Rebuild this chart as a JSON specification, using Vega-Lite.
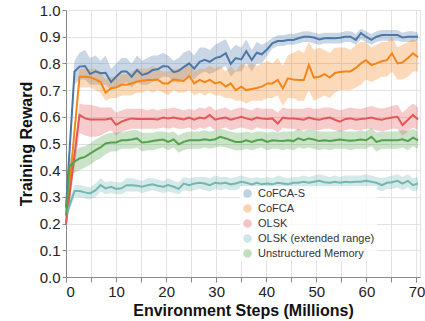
{
  "$schema": "https://vega.github.io/schema/vega-lite/v6.json",
  "width": 354,
  "height": 267,
  "autosize": {"type": "none"},
  "padding": {"left": 66, "top": 10, "right": 5, "bottom": 44},
  "background": "white",
  "config": {
    "font": "Liberation Sans",
    "view": {"stroke": "#e3e3e3"},
    "axis": {
      "labelFont": "Liberation Sans", "labelFontSize": 15, "labelColor": "#222", "labelOverlap": false,
      "titleFont": "Liberation Sans", "titleFontSize": 16, "titleFontWeight": "bold", "titleColor": "#111",
      "gridColor": "#e3e3e3", "domainColor": "#888", "tickColor": "#888"
    }
  },
  "data": {"values": [
{"s":"a","x":0,"m":0.26,"l":0.24,"h":0.28},
{"s":"a","x":1.7,"m":0.77,"l":0.72,"h":0.81},
{"s":"a","x":2.7,"m":0.788,"l":0.74,"h":0.84},
{"s":"a","x":3.8,"m":0.79,"l":0.74,"h":0.85},
{"s":"a","x":4.8,"m":0.76,"l":0.72,"h":0.82},
{"s":"a","x":5.9,"m":0.77,"l":0.72,"h":0.83},
{"s":"a","x":6.9,"m":0.763,"l":0.72,"h":0.81},
{"s":"a","x":7.9,"m":0.765,"l":0.72,"h":0.83},
{"s":"a","x":9.0,"m":0.73,"l":0.70,"h":0.78},
{"s":"a","x":10.0,"m":0.75,"l":0.71,"h":0.80},
{"s":"a","x":11.1,"m":0.77,"l":0.72,"h":0.82},
{"s":"a","x":12.1,"m":0.77,"l":0.73,"h":0.82},
{"s":"a","x":13.1,"m":0.75,"l":0.71,"h":0.80},
{"s":"a","x":14.2,"m":0.775,"l":0.73,"h":0.83},
{"s":"a","x":15.2,"m":0.757,"l":0.72,"h":0.81},
{"s":"a","x":16.3,"m":0.763,"l":0.72,"h":0.82},
{"s":"a","x":17.3,"m":0.775,"l":0.73,"h":0.83},
{"s":"a","x":18.3,"m":0.778,"l":0.74,"h":0.83},
{"s":"a","x":19.4,"m":0.79,"l":0.75,"h":0.84},
{"s":"a","x":20.4,"m":0.788,"l":0.75,"h":0.83},
{"s":"a","x":21.5,"m":0.767,"l":0.73,"h":0.81},
{"s":"a","x":22.5,"m":0.772,"l":0.73,"h":0.82},
{"s":"a","x":23.5,"m":0.786,"l":0.74,"h":0.84},
{"s":"a","x":24.6,"m":0.80,"l":0.75,"h":0.85},
{"s":"a","x":25.6,"m":0.78,"l":0.74,"h":0.83},
{"s":"a","x":26.7,"m":0.806,"l":0.76,"h":0.86},
{"s":"a","x":27.7,"m":0.813,"l":0.77,"h":0.86},
{"s":"a","x":28.7,"m":0.806,"l":0.76,"h":0.85},
{"s":"a","x":29.8,"m":0.82,"l":0.77,"h":0.87},
{"s":"a","x":30.8,"m":0.825,"l":0.78,"h":0.88},
{"s":"a","x":31.9,"m":0.838,"l":0.79,"h":0.89},
{"s":"a","x":32.9,"m":0.798,"l":0.75,"h":0.85},
{"s":"a","x":33.9,"m":0.82,"l":0.77,"h":0.87},
{"s":"a","x":35.0,"m":0.815,"l":0.77,"h":0.86},
{"s":"a","x":36.0,"m":0.846,"l":0.80,"h":0.89},
{"s":"a","x":37.1,"m":0.813,"l":0.77,"h":0.85},
{"s":"a","x":38.1,"m":0.84,"l":0.80,"h":0.88},
{"s":"a","x":39.1,"m":0.834,"l":0.80,"h":0.87},
{"s":"a","x":40.2,"m":0.853,"l":0.83,"h":0.88},
{"s":"a","x":41.2,"m":0.875,"l":0.855,"h":0.895},
{"s":"a","x":42.3,"m":0.884,"l":0.865,"h":0.905},
{"s":"a","x":43.3,"m":0.884,"l":0.865,"h":0.905},
{"s":"a","x":44.3,"m":0.888,"l":0.87,"h":0.91},
{"s":"a","x":45.4,"m":0.888,"l":0.87,"h":0.91},
{"s":"a","x":46.4,"m":0.894,"l":0.875,"h":0.915},
{"s":"a","x":47.5,"m":0.90,"l":0.88,"h":0.92},
{"s":"a","x":48.5,"m":0.90,"l":0.88,"h":0.92},
{"s":"a","x":49.5,"m":0.897,"l":0.875,"h":0.915},
{"s":"a","x":50.6,"m":0.89,"l":0.87,"h":0.91},
{"s":"a","x":51.6,"m":0.894,"l":0.875,"h":0.915},
{"s":"a","x":52.7,"m":0.895,"l":0.875,"h":0.915},
{"s":"a","x":53.7,"m":0.894,"l":0.875,"h":0.915},
{"s":"a","x":54.7,"m":0.896,"l":0.875,"h":0.915},
{"s":"a","x":55.8,"m":0.90,"l":0.88,"h":0.92},
{"s":"a","x":56.8,"m":0.90,"l":0.88,"h":0.92},
{"s":"a","x":57.9,"m":0.888,"l":0.87,"h":0.91},
{"s":"a","x":58.9,"m":0.913,"l":0.89,"h":0.93},
{"s":"a","x":59.9,"m":0.90,"l":0.88,"h":0.92},
{"s":"a","x":61.0,"m":0.888,"l":0.87,"h":0.91},
{"s":"a","x":62.0,"m":0.90,"l":0.88,"h":0.92},
{"s":"a","x":63.1,"m":0.906,"l":0.885,"h":0.925},
{"s":"a","x":64.1,"m":0.906,"l":0.885,"h":0.925},
{"s":"a","x":65.1,"m":0.906,"l":0.885,"h":0.925},
{"s":"a","x":66.2,"m":0.906,"l":0.885,"h":0.925},
{"s":"a","x":67.2,"m":0.897,"l":0.88,"h":0.915},
{"s":"a","x":68.3,"m":0.90,"l":0.88,"h":0.92},
{"s":"a","x":69.3,"m":0.90,"l":0.88,"h":0.92},
{"s":"a","x":70.3,"m":0.90,"l":0.885,"h":0.915},
{"s":"b","x":0,"m":0.20,"l":0.19,"h":0.21},
{"s":"b","x":2.7,"m":0.75,"l":0.71,"h":0.78},
{"s":"b","x":3.8,"m":0.75,"l":0.71,"h":0.78},
{"s":"b","x":4.8,"m":0.748,"l":0.71,"h":0.78},
{"s":"b","x":5.9,"m":0.74,"l":0.70,"h":0.78},
{"s":"b","x":6.9,"m":0.73,"l":0.69,"h":0.77},
{"s":"b","x":7.9,"m":0.69,"l":0.66,"h":0.74},
{"s":"b","x":9.0,"m":0.707,"l":0.67,"h":0.75},
{"s":"b","x":10.0,"m":0.71,"l":0.67,"h":0.75},
{"s":"b","x":11.1,"m":0.72,"l":0.68,"h":0.76},
{"s":"b","x":12.1,"m":0.72,"l":0.68,"h":0.76},
{"s":"b","x":13.1,"m":0.725,"l":0.68,"h":0.77},
{"s":"b","x":14.2,"m":0.732,"l":0.69,"h":0.78},
{"s":"b","x":15.2,"m":0.735,"l":0.69,"h":0.78},
{"s":"b","x":16.3,"m":0.738,"l":0.70,"h":0.78},
{"s":"b","x":17.3,"m":0.738,"l":0.69,"h":0.79},
{"s":"b","x":18.3,"m":0.74,"l":0.70,"h":0.78},
{"s":"b","x":19.4,"m":0.725,"l":0.69,"h":0.77},
{"s":"b","x":20.4,"m":0.725,"l":0.68,"h":0.77},
{"s":"b","x":21.5,"m":0.74,"l":0.70,"h":0.78},
{"s":"b","x":22.5,"m":0.737,"l":0.69,"h":0.78},
{"s":"b","x":23.5,"m":0.734,"l":0.69,"h":0.78},
{"s":"b","x":24.6,"m":0.753,"l":0.70,"h":0.80},
{"s":"b","x":25.6,"m":0.725,"l":0.68,"h":0.77},
{"s":"b","x":26.7,"m":0.738,"l":0.69,"h":0.78},
{"s":"b","x":27.7,"m":0.73,"l":0.68,"h":0.78},
{"s":"b","x":28.7,"m":0.738,"l":0.69,"h":0.79},
{"s":"b","x":29.8,"m":0.725,"l":0.68,"h":0.78},
{"s":"b","x":30.8,"m":0.73,"l":0.68,"h":0.79},
{"s":"b","x":31.9,"m":0.713,"l":0.67,"h":0.77},
{"s":"b","x":32.9,"m":0.725,"l":0.67,"h":0.79},
{"s":"b","x":33.9,"m":0.70,"l":0.66,"h":0.77},
{"s":"b","x":35.0,"m":0.713,"l":0.66,"h":0.80},
{"s":"b","x":36.0,"m":0.70,"l":0.65,"h":0.79},
{"s":"b","x":37.1,"m":0.704,"l":0.66,"h":0.80},
{"s":"b","x":38.1,"m":0.708,"l":0.66,"h":0.79},
{"s":"b","x":39.1,"m":0.713,"l":0.66,"h":0.80},
{"s":"b","x":40.2,"m":0.725,"l":0.67,"h":0.81},
{"s":"b","x":41.2,"m":0.725,"l":0.67,"h":0.80},
{"s":"b","x":42.3,"m":0.738,"l":0.68,"h":0.82},
{"s":"b","x":43.3,"m":0.706,"l":0.64,"h":0.79},
{"s":"b","x":44.3,"m":0.744,"l":0.67,"h":0.83},
{"s":"b","x":45.4,"m":0.74,"l":0.67,"h":0.84},
{"s":"b","x":46.4,"m":0.738,"l":0.66,"h":0.85},
{"s":"b","x":47.5,"m":0.738,"l":0.66,"h":0.84},
{"s":"b","x":48.5,"m":0.794,"l":0.70,"h":0.88},
{"s":"b","x":49.5,"m":0.747,"l":0.66,"h":0.85},
{"s":"b","x":50.6,"m":0.75,"l":0.67,"h":0.86},
{"s":"b","x":51.6,"m":0.76,"l":0.68,"h":0.85},
{"s":"b","x":52.7,"m":0.747,"l":0.67,"h":0.84},
{"s":"b","x":53.7,"m":0.764,"l":0.69,"h":0.86},
{"s":"b","x":54.7,"m":0.768,"l":0.70,"h":0.86},
{"s":"b","x":55.8,"m":0.77,"l":0.70,"h":0.86},
{"s":"b","x":56.8,"m":0.77,"l":0.70,"h":0.85},
{"s":"b","x":57.9,"m":0.783,"l":0.71,"h":0.87},
{"s":"b","x":58.9,"m":0.80,"l":0.72,"h":0.88},
{"s":"b","x":59.9,"m":0.812,"l":0.74,"h":0.88},
{"s":"b","x":61.0,"m":0.794,"l":0.73,"h":0.86},
{"s":"b","x":62.0,"m":0.80,"l":0.74,"h":0.87},
{"s":"b","x":63.1,"m":0.808,"l":0.75,"h":0.88},
{"s":"b","x":64.1,"m":0.812,"l":0.75,"h":0.88},
{"s":"b","x":65.1,"m":0.838,"l":0.77,"h":0.90},
{"s":"b","x":66.2,"m":0.80,"l":0.74,"h":0.86},
{"s":"b","x":67.2,"m":0.803,"l":0.74,"h":0.87},
{"s":"b","x":68.3,"m":0.82,"l":0.75,"h":0.88},
{"s":"b","x":69.3,"m":0.838,"l":0.77,"h":0.89},
{"s":"b","x":70.3,"m":0.823,"l":0.77,"h":0.88},
{"s":"c","x":0,"m":0.20,"l":0.19,"h":0.21},
{"s":"c","x":2.7,"m":0.607,"l":0.54,"h":0.65},
{"s":"c","x":3.8,"m":0.594,"l":0.53,"h":0.645},
{"s":"c","x":4.8,"m":0.59,"l":0.525,"h":0.645},
{"s":"c","x":5.9,"m":0.59,"l":0.525,"h":0.64},
{"s":"c","x":6.9,"m":0.59,"l":0.53,"h":0.635},
{"s":"c","x":7.9,"m":0.59,"l":0.54,"h":0.635},
{"s":"c","x":9.0,"m":0.594,"l":0.55,"h":0.635},
{"s":"c","x":10.0,"m":0.57,"l":0.53,"h":0.615},
{"s":"c","x":11.1,"m":0.582,"l":0.545,"h":0.625},
{"s":"c","x":12.1,"m":0.589,"l":0.55,"h":0.63},
{"s":"c","x":13.1,"m":0.594,"l":0.555,"h":0.63},
{"s":"c","x":14.2,"m":0.592,"l":0.555,"h":0.63},
{"s":"c","x":15.2,"m":0.592,"l":0.555,"h":0.63},
{"s":"c","x":16.3,"m":0.592,"l":0.555,"h":0.625},
{"s":"c","x":17.3,"m":0.592,"l":0.555,"h":0.63},
{"s":"c","x":18.3,"m":0.59,"l":0.555,"h":0.625},
{"s":"c","x":19.4,"m":0.597,"l":0.56,"h":0.63},
{"s":"c","x":20.4,"m":0.594,"l":0.555,"h":0.63},
{"s":"c","x":21.5,"m":0.597,"l":0.56,"h":0.635},
{"s":"c","x":22.5,"m":0.594,"l":0.555,"h":0.63},
{"s":"c","x":23.5,"m":0.59,"l":0.555,"h":0.625},
{"s":"c","x":24.6,"m":0.597,"l":0.56,"h":0.63},
{"s":"c","x":25.6,"m":0.589,"l":0.55,"h":0.625},
{"s":"c","x":26.7,"m":0.597,"l":0.56,"h":0.635},
{"s":"c","x":27.7,"m":0.594,"l":0.555,"h":0.63},
{"s":"c","x":28.7,"m":0.607,"l":0.565,"h":0.64},
{"s":"c","x":29.8,"m":0.589,"l":0.55,"h":0.625},
{"s":"c","x":30.8,"m":0.594,"l":0.555,"h":0.63},
{"s":"c","x":31.9,"m":0.597,"l":0.56,"h":0.635},
{"s":"c","x":32.9,"m":0.589,"l":0.55,"h":0.625},
{"s":"c","x":33.9,"m":0.594,"l":0.555,"h":0.63},
{"s":"c","x":35.0,"m":0.60,"l":0.56,"h":0.635},
{"s":"c","x":36.0,"m":0.594,"l":0.555,"h":0.63},
{"s":"c","x":37.1,"m":0.589,"l":0.55,"h":0.625},
{"s":"c","x":38.1,"m":0.597,"l":0.56,"h":0.635},
{"s":"c","x":39.1,"m":0.594,"l":0.555,"h":0.63},
{"s":"c","x":40.2,"m":0.592,"l":0.555,"h":0.63},
{"s":"c","x":41.2,"m":0.594,"l":0.555,"h":0.63},
{"s":"c","x":42.3,"m":0.575,"l":0.54,"h":0.615},
{"s":"c","x":43.3,"m":0.597,"l":0.56,"h":0.635},
{"s":"c","x":44.3,"m":0.594,"l":0.555,"h":0.63},
{"s":"c","x":45.4,"m":0.594,"l":0.555,"h":0.63},
{"s":"c","x":46.4,"m":0.592,"l":0.55,"h":0.63},
{"s":"c","x":47.5,"m":0.589,"l":0.55,"h":0.63},
{"s":"c","x":48.5,"m":0.597,"l":0.555,"h":0.635},
{"s":"c","x":49.5,"m":0.592,"l":0.55,"h":0.63},
{"s":"c","x":50.6,"m":0.589,"l":0.55,"h":0.63},
{"s":"c","x":51.6,"m":0.594,"l":0.555,"h":0.635},
{"s":"c","x":52.7,"m":0.597,"l":0.555,"h":0.635},
{"s":"c","x":53.7,"m":0.589,"l":0.55,"h":0.63},
{"s":"c","x":54.7,"m":0.582,"l":0.545,"h":0.625},
{"s":"c","x":55.8,"m":0.592,"l":0.55,"h":0.63},
{"s":"c","x":56.8,"m":0.594,"l":0.555,"h":0.635},
{"s":"c","x":57.9,"m":0.589,"l":0.55,"h":0.63},
{"s":"c","x":58.9,"m":0.592,"l":0.55,"h":0.63},
{"s":"c","x":59.9,"m":0.594,"l":0.555,"h":0.635},
{"s":"c","x":61.0,"m":0.597,"l":0.555,"h":0.64},
{"s":"c","x":62.0,"m":0.592,"l":0.55,"h":0.635},
{"s":"c","x":63.1,"m":0.589,"l":0.545,"h":0.63},
{"s":"c","x":64.1,"m":0.594,"l":0.55,"h":0.635},
{"s":"c","x":65.1,"m":0.597,"l":0.555,"h":0.64},
{"s":"c","x":66.2,"m":0.60,"l":0.555,"h":0.645},
{"s":"c","x":67.2,"m":0.569,"l":0.53,"h":0.615},
{"s":"c","x":68.3,"m":0.589,"l":0.545,"h":0.635},
{"s":"c","x":69.3,"m":0.607,"l":0.56,"h":0.65},
{"s":"c","x":70.3,"m":0.59,"l":0.55,"h":0.635},
{"s":"d","x":0,"m":0.23,"l":0.21,"h":0.25},
{"s":"d","x":1.7,"m":0.322,"l":0.30,"h":0.345},
{"s":"d","x":2.7,"m":0.322,"l":0.30,"h":0.345},
{"s":"d","x":3.8,"m":0.317,"l":0.295,"h":0.34},
{"s":"d","x":4.8,"m":0.313,"l":0.29,"h":0.335},
{"s":"d","x":5.9,"m":0.325,"l":0.30,"h":0.35},
{"s":"d","x":6.9,"m":0.344,"l":0.32,"h":0.37},
{"s":"d","x":7.9,"m":0.332,"l":0.31,"h":0.355},
{"s":"d","x":9.0,"m":0.338,"l":0.315,"h":0.36},
{"s":"d","x":10.0,"m":0.33,"l":0.31,"h":0.355},
{"s":"d","x":11.1,"m":0.332,"l":0.31,"h":0.355},
{"s":"d","x":12.1,"m":0.344,"l":0.32,"h":0.37},
{"s":"d","x":13.1,"m":0.344,"l":0.32,"h":0.37},
{"s":"d","x":14.2,"m":0.342,"l":0.32,"h":0.365},
{"s":"d","x":15.2,"m":0.338,"l":0.315,"h":0.36},
{"s":"d","x":16.3,"m":0.344,"l":0.32,"h":0.37},
{"s":"d","x":17.3,"m":0.347,"l":0.325,"h":0.37},
{"s":"d","x":18.3,"m":0.342,"l":0.32,"h":0.365},
{"s":"d","x":19.4,"m":0.338,"l":0.315,"h":0.36},
{"s":"d","x":20.4,"m":0.344,"l":0.32,"h":0.37},
{"s":"d","x":21.5,"m":0.338,"l":0.315,"h":0.36},
{"s":"d","x":22.5,"m":0.33,"l":0.31,"h":0.355},
{"s":"d","x":23.5,"m":0.35,"l":0.325,"h":0.375},
{"s":"d","x":24.6,"m":0.344,"l":0.32,"h":0.37},
{"s":"d","x":25.6,"m":0.35,"l":0.325,"h":0.375},
{"s":"d","x":26.7,"m":0.353,"l":0.33,"h":0.375},
{"s":"d","x":27.7,"m":0.35,"l":0.325,"h":0.375},
{"s":"d","x":28.7,"m":0.344,"l":0.32,"h":0.37},
{"s":"d","x":29.8,"m":0.353,"l":0.33,"h":0.38},
{"s":"d","x":30.8,"m":0.35,"l":0.325,"h":0.375},
{"s":"d","x":31.9,"m":0.353,"l":0.33,"h":0.375},
{"s":"d","x":32.9,"m":0.347,"l":0.325,"h":0.37},
{"s":"d","x":33.9,"m":0.35,"l":0.325,"h":0.375},
{"s":"d","x":35.0,"m":0.357,"l":0.335,"h":0.38},
{"s":"d","x":36.0,"m":0.353,"l":0.33,"h":0.375},
{"s":"d","x":37.1,"m":0.347,"l":0.325,"h":0.37},
{"s":"d","x":38.1,"m":0.353,"l":0.33,"h":0.375},
{"s":"d","x":39.1,"m":0.347,"l":0.325,"h":0.37},
{"s":"d","x":40.2,"m":0.35,"l":0.325,"h":0.375},
{"s":"d","x":41.2,"m":0.347,"l":0.325,"h":0.37},
{"s":"d","x":42.3,"m":0.353,"l":0.33,"h":0.38},
{"s":"d","x":43.3,"m":0.35,"l":0.325,"h":0.375},
{"s":"d","x":44.3,"m":0.347,"l":0.325,"h":0.37},
{"s":"d","x":45.4,"m":0.353,"l":0.33,"h":0.375},
{"s":"d","x":46.4,"m":0.353,"l":0.33,"h":0.375},
{"s":"d","x":47.5,"m":0.357,"l":0.335,"h":0.38},
{"s":"d","x":48.5,"m":0.353,"l":0.33,"h":0.375},
{"s":"d","x":49.5,"m":0.357,"l":0.335,"h":0.38},
{"s":"d","x":50.6,"m":0.36,"l":0.335,"h":0.385},
{"s":"d","x":51.6,"m":0.355,"l":0.33,"h":0.38},
{"s":"d","x":52.7,"m":0.353,"l":0.33,"h":0.375},
{"s":"d","x":53.7,"m":0.357,"l":0.335,"h":0.38},
{"s":"d","x":54.7,"m":0.353,"l":0.33,"h":0.375},
{"s":"d","x":55.8,"m":0.357,"l":0.335,"h":0.38},
{"s":"d","x":56.8,"m":0.355,"l":0.33,"h":0.38},
{"s":"d","x":57.9,"m":0.357,"l":0.335,"h":0.38},
{"s":"d","x":58.9,"m":0.357,"l":0.335,"h":0.38},
{"s":"d","x":59.9,"m":0.36,"l":0.335,"h":0.385},
{"s":"d","x":61.0,"m":0.357,"l":0.335,"h":0.38},
{"s":"d","x":62.0,"m":0.353,"l":0.33,"h":0.375},
{"s":"d","x":63.1,"m":0.344,"l":0.32,"h":0.37},
{"s":"d","x":64.1,"m":0.353,"l":0.33,"h":0.375},
{"s":"d","x":65.1,"m":0.355,"l":0.33,"h":0.38},
{"s":"d","x":66.2,"m":0.36,"l":0.335,"h":0.385},
{"s":"d","x":67.2,"m":0.35,"l":0.325,"h":0.375},
{"s":"d","x":68.3,"m":0.36,"l":0.335,"h":0.385},
{"s":"d","x":69.3,"m":0.344,"l":0.32,"h":0.37},
{"s":"d","x":70.3,"m":0.35,"l":0.325,"h":0.375},
{"s":"e","x":0,"m":0.23,"l":0.21,"h":0.26},
{"s":"e","x":0.7,"m":0.415,"l":0.38,"h":0.44},
{"s":"e","x":1.7,"m":0.432,"l":0.39,"h":0.47},
{"s":"e","x":2.7,"m":0.444,"l":0.40,"h":0.485},
{"s":"e","x":3.8,"m":0.45,"l":0.41,"h":0.49},
{"s":"e","x":4.8,"m":0.462,"l":0.42,"h":0.50},
{"s":"e","x":5.9,"m":0.475,"l":0.435,"h":0.515},
{"s":"e","x":6.9,"m":0.485,"l":0.445,"h":0.525},
{"s":"e","x":7.9,"m":0.50,"l":0.46,"h":0.535},
{"s":"e","x":9.0,"m":0.504,"l":0.47,"h":0.54},
{"s":"e","x":10.0,"m":0.504,"l":0.47,"h":0.54},
{"s":"e","x":11.1,"m":0.512,"l":0.48,"h":0.545},
{"s":"e","x":12.1,"m":0.512,"l":0.48,"h":0.545},
{"s":"e","x":13.1,"m":0.515,"l":0.48,"h":0.55},
{"s":"e","x":14.2,"m":0.519,"l":0.485,"h":0.55},
{"s":"e","x":15.2,"m":0.504,"l":0.47,"h":0.54},
{"s":"e","x":16.3,"m":0.506,"l":0.475,"h":0.54},
{"s":"e","x":17.3,"m":0.509,"l":0.475,"h":0.54},
{"s":"e","x":18.3,"m":0.512,"l":0.48,"h":0.545},
{"s":"e","x":19.4,"m":0.515,"l":0.485,"h":0.545},
{"s":"e","x":20.4,"m":0.506,"l":0.475,"h":0.54},
{"s":"e","x":21.5,"m":0.515,"l":0.485,"h":0.545},
{"s":"e","x":22.5,"m":0.497,"l":0.465,"h":0.53},
{"s":"e","x":23.5,"m":0.506,"l":0.475,"h":0.54},
{"s":"e","x":24.6,"m":0.512,"l":0.48,"h":0.545},
{"s":"e","x":25.6,"m":0.512,"l":0.48,"h":0.545},
{"s":"e","x":26.7,"m":0.512,"l":0.48,"h":0.545},
{"s":"e","x":27.7,"m":0.516,"l":0.485,"h":0.55},
{"s":"e","x":28.7,"m":0.512,"l":0.48,"h":0.545},
{"s":"e","x":29.8,"m":0.516,"l":0.485,"h":0.55},
{"s":"e","x":30.8,"m":0.525,"l":0.49,"h":0.555},
{"s":"e","x":31.9,"m":0.519,"l":0.485,"h":0.55},
{"s":"e","x":32.9,"m":0.512,"l":0.48,"h":0.545},
{"s":"e","x":33.9,"m":0.506,"l":0.475,"h":0.54},
{"s":"e","x":35.0,"m":0.506,"l":0.475,"h":0.54},
{"s":"e","x":36.0,"m":0.512,"l":0.48,"h":0.545},
{"s":"e","x":37.1,"m":0.506,"l":0.475,"h":0.54},
{"s":"e","x":38.1,"m":0.512,"l":0.48,"h":0.545},
{"s":"e","x":39.1,"m":0.515,"l":0.485,"h":0.545},
{"s":"e","x":40.2,"m":0.506,"l":0.475,"h":0.54},
{"s":"e","x":41.2,"m":0.512,"l":0.48,"h":0.545},
{"s":"e","x":42.3,"m":0.51,"l":0.48,"h":0.54},
{"s":"e","x":43.3,"m":0.509,"l":0.475,"h":0.545},
{"s":"e","x":44.3,"m":0.512,"l":0.48,"h":0.545},
{"s":"e","x":45.4,"m":0.509,"l":0.475,"h":0.545},
{"s":"e","x":46.4,"m":0.519,"l":0.485,"h":0.555},
{"s":"e","x":47.5,"m":0.512,"l":0.48,"h":0.545},
{"s":"e","x":48.5,"m":0.519,"l":0.485,"h":0.555},
{"s":"e","x":49.5,"m":0.515,"l":0.48,"h":0.55},
{"s":"e","x":50.6,"m":0.509,"l":0.475,"h":0.545},
{"s":"e","x":51.6,"m":0.512,"l":0.48,"h":0.545},
{"s":"e","x":52.7,"m":0.509,"l":0.475,"h":0.545},
{"s":"e","x":53.7,"m":0.512,"l":0.48,"h":0.545},
{"s":"e","x":54.7,"m":0.515,"l":0.48,"h":0.55},
{"s":"e","x":55.8,"m":0.512,"l":0.48,"h":0.545},
{"s":"e","x":56.8,"m":0.51,"l":0.475,"h":0.545},
{"s":"e","x":57.9,"m":0.512,"l":0.48,"h":0.545},
{"s":"e","x":58.9,"m":0.515,"l":0.48,"h":0.55},
{"s":"e","x":59.9,"m":0.512,"l":0.48,"h":0.545},
{"s":"e","x":61.0,"m":0.525,"l":0.49,"h":0.56},
{"s":"e","x":62.0,"m":0.506,"l":0.47,"h":0.54},
{"s":"e","x":63.1,"m":0.512,"l":0.48,"h":0.545},
{"s":"e","x":64.1,"m":0.512,"l":0.48,"h":0.545},
{"s":"e","x":65.1,"m":0.512,"l":0.48,"h":0.545},
{"s":"e","x":66.2,"m":0.512,"l":0.48,"h":0.545},
{"s":"e","x":67.2,"m":0.516,"l":0.485,"h":0.55},
{"s":"e","x":68.3,"m":0.509,"l":0.475,"h":0.545},
{"s":"e","x":69.3,"m":0.522,"l":0.49,"h":0.555},
{"s":"e","x":70.3,"m":0.512,"l":0.48,"h":0.545}
  ]},
  "encoding": {
    "x": {
      "field": "x", "type": "quantitative",
      "scale": {"domain": [0, 70.7], "nice": false, "zero": false},
      "axis": {
        "title": "Environment Steps (Millions)",
        "values": [0,5,10,15,20,25,30,35,40,45,50,55,60,65,70],
        "labelExpr": "datum.value % 10 === 0 ? datum.label : ''",
        "tickSize": 5, "labelPadding": 2, "titlePadding": 3
      }
    },
    "color": {
      "field": "s", "type": "nominal",
      "scale": {"domain": ["a","b","c","d","e"], "range": ["#4c78a8","#f58518","#e45756","#72b7b2","#54a24b"]},
      "legend": {
        "title": null, "orient": "none", "legendX": 174, "legendY": 176,
        "labelExpr": "datum.value == 'a' ? 'CoFCA-S' : datum.value == 'b' ? 'CoFCA' : datum.value == 'c' ? 'OLSK' : datum.value == 'd' ? 'OLSK (extended range)' : 'Unstructured Memory'",
        "symbolType": "circle", "symbolSize": 75, "symbolOpacity": 0.35, "symbolStrokeWidth": 0,
        "labelFont": "Liberation Sans", "labelFontSize": 11, "labelColor": "#333", "labelOffset": 5,
        "rowPadding": 3, "padding": 2, "fillColor": "rgba(255,255,255,0.85)",
        "encode": {"symbols": {"update": {"fill": {"scale": "color", "field": "value"}, "stroke": {"value": "transparent"}}}}
      }
    }
  },
  "layer": [
    {
      "mark": {"type": "area", "opacity": 0.3},
      "encoding": {
        "y": {"field": "l", "type": "quantitative", "scale": {"domain": [0, 1], "nice": false},
          "axis": {"title": "Training Reward", "values": [0,0.1,0.2,0.3,0.4,0.5,0.6,0.7,0.8,0.9,1.0], "format": ".1f", "tickSize": 4, "labelPadding": 2, "titlePadding": 5, "labelOverlap": false}},
        "y2": {"field": "h"}
      }
    },
    {
      "mark": {"type": "line", "strokeWidth": 2},
      "encoding": {
        "y": {"field": "m", "type": "quantitative",
          "axis": {"title": "Training Reward", "values": [0,0.1,0.2,0.3,0.4,0.5,0.6,0.7,0.8,0.9,1.0], "format": ".1f", "tickSize": 4, "labelPadding": 2, "titlePadding": 5, "labelOverlap": false}}
      }
    }
  ]
}
